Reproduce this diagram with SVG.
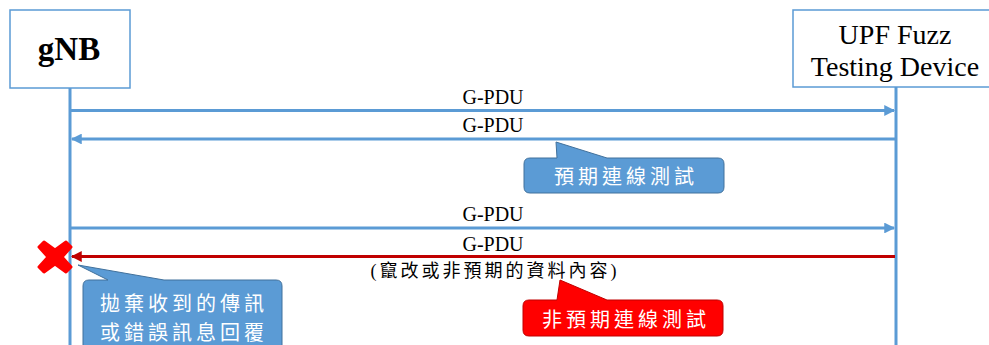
<svg xmlns="http://www.w3.org/2000/svg" width="989" height="345" viewBox="0 0 989 345">
<defs>
<style>
.box{fill:#fff;stroke:#5b9bd5;stroke-width:1.5}
.life{stroke:#5b9bd5;stroke-width:3;fill:none}
.msg{stroke:#5b9bd5;stroke-width:3;fill:none}
.msgr{stroke:#c00000;stroke-width:3;fill:none}
.lbl{font-family:"Liberation Serif","Times New Roman",serif;font-size:20px;fill:#000;text-anchor:middle}
.cjk{font-family:"Liberation Serif","Noto Sans CJK TC",serif;font-size:18px;fill:#000;text-anchor:middle;letter-spacing:3px}
.call{fill:#5b9bd5;stroke:#41719c;stroke-width:1}
.callr{fill:#ff0000;stroke:#c00000;stroke-width:1}
.ct{font-family:"Noto Sans CJK TC",sans-serif;font-size:20px;fill:#fff;text-anchor:middle;letter-spacing:4px}
</style>
<marker id="ab" viewBox="0 0 10 10" refX="9" refY="5" markerWidth="4" markerHeight="3.6" orient="auto-start-reverse" markerUnits="strokeWidth">
<path d="M0,0 L10,5 L0,10 Z" fill="#5b9bd5"/>
</marker>
<marker id="ar" viewBox="0 0 10 10" refX="9" refY="5" markerWidth="4" markerHeight="3.6" orient="auto-start-reverse" markerUnits="strokeWidth">
<path d="M0,0 L10,5 L0,10 Z" fill="#c00000"/>
</marker>
</defs>
<rect width="989" height="345" fill="#fff"/>
<g id="lifelines">
<line class="life" x1="70" y1="88" x2="70" y2="345"/>
<line class="life" x1="896" y1="87" x2="896" y2="345"/>
</g>
<g id="gNB">
<rect class="box" x="10" y="10" width="120" height="78"/>
<text x="69" y="60" style="font-family:'Liberation Serif','Times New Roman',serif;font-size:33px;font-weight:bold;text-anchor:middle">gNB</text>
</g>
<g id="UPF">
<rect class="box" x="793" y="10" width="210" height="77"/>
<text x="895" y="44" style="font-family:'Liberation Serif','Times New Roman',serif;font-size:28px;text-anchor:middle">UPF Fuzz</text>
<text x="895" y="76" style="font-family:'Liberation Serif','Times New Roman',serif;font-size:28px;text-anchor:middle">Testing Device</text>
</g>
<g id="connectors">
<line class="msg" x1="71" y1="110.5" x2="894" y2="110.5" marker-end="url(#ab)"/>
<text class="lbl" x="493" y="104">G-PDU</text>
<line class="msg" x1="895" y1="139" x2="72" y2="139" marker-end="url(#ab)"/>
<text class="lbl" x="493" y="132">G-PDU</text>
<line class="msg" x1="71" y1="228" x2="894" y2="228" marker-end="url(#ab)"/>
<text class="lbl" x="493" y="221">G-PDU</text>
<line class="msgr" x1="895" y1="256.5" x2="72" y2="256.5" marker-end="url(#ar)"/>
<text class="lbl" x="493" y="251">G-PDU</text>
<text class="cjk" x="495" y="277">(竄改或非預期的資料內容)</text>
</g>
<g id="reject-mark">
<path d="M44,242 L55,250 L66,242 L71,247 L62,257 L71,267 L66,272 L55,264 L44,272 L39,267 L48,257 L39,247 Z" fill="#ff0000" stroke="#ff0000" stroke-width="3" stroke-linejoin="round"/>
</g>
<g id="callout-expected">
<path class="call" d="M530,158 L557,158 L556,142 L607,158 L718,158 Q724,158 724,164 L724,187 Q724,193 718,193 L530,193 Q524,193 524,187 L524,164 Q524,158 530,158 Z"/>
<text class="ct" x="626" y="184">預期連線測試</text>
</g>
<g id="callout-discard">
<path class="call" d="M89,280 L108,280 L78,265 L164,280 L276,280 Q282,280 282,286 L282,360 L83,360 L83,286 Q83,280 89,280 Z"/>
<text class="ct" x="184" y="311">拋棄收到的傳訊</text>
<text class="ct" x="184" y="340">或錯誤訊息回覆</text>
</g>
<g id="callout-unexpected">
<path class="callr" d="M529,300 L557,300 L560,280 L607,300 L717,300 Q723,300 723,306 L723,330 Q723,336 717,336 L529,336 Q523,336 523,330 L523,306 Q523,300 529,300 Z"/>
<text class="ct" x="626" y="327">非預期連線測試</text>
</g>
</svg>
